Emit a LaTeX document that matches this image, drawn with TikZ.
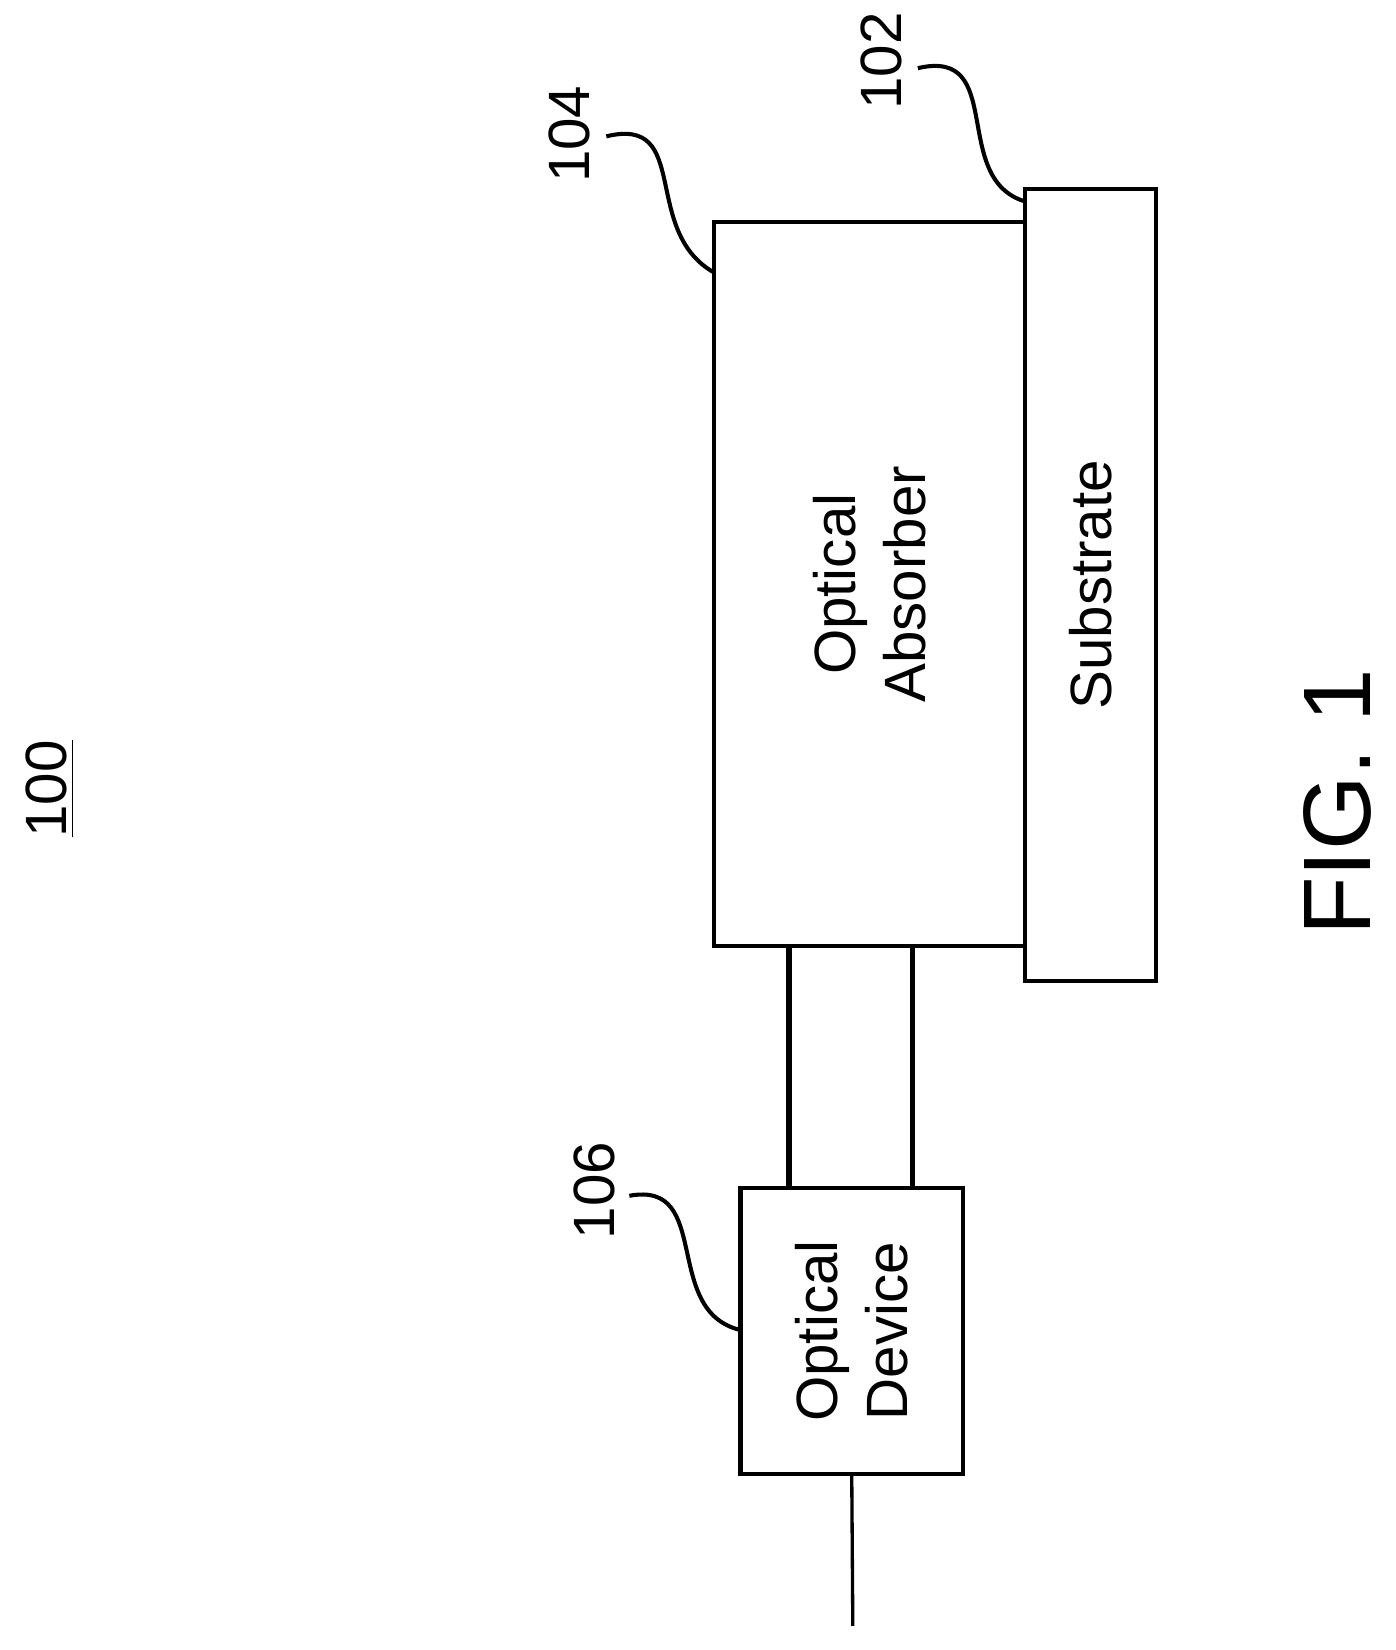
\documentclass[tikz,border=0pt]{standalone}
\usepackage{fontspec}
\setmainfont{Liberation Sans}
\begin{document}
\begin{tikzpicture}[x=0.01cm,y=-0.01cm,
    box/.style={draw, line width=1.1pt, inner sep=0pt},
    lbl/.style={rotate=90, font=\fontsize{15.8}{19}\selectfont, align=center},
    lead/.style={line width=1.1pt}]
        \useasboundingbox (0,0) rectangle (1330,1573);
        % boxes
        \node[box, minimum width=2.96cm, minimum height=6.9cm] (absorber) at (829,557) {};
        \node[box, minimum width=1.25cm, minimum height=7.55cm] (substrate) at (1039.5,557.5) {};
        \node[box, minimum width=2.12cm, minimum height=2.72cm] (device) at (812,1269) {};
        \node[lbl] at (absorber.center) {Optical\\Absorber};
        \node[lbl] at (substrate.center) {Substrate};
        \node[lbl] at (device.center) {Optical\\Device};
        % waveguide and fiber
        \draw[line width=1.5pt] (752,902) -- (752,1133);
        \draw[line width=1.5pt] (870,902) -- (870,1133);
        \coordinate (fiberend) at (813,1550);
        \draw[line width=0.9pt] (device.south) -- (fiberend);
        % reference numerals
        \node[lbl] (n100) at (48,752) {\underline{100}};
        \node[lbl] (n104) at (543,128) {104};
        \node[lbl] (n102) at (840,58) {102};
        \node[lbl] (n106) at (567,1135) {106};
        \node[rotate=90, font=\fontsize{26}{30}\selectfont] (fig) at (1275,765) {FIG. 1};
        \draw[lead] (578,130) .. controls (660,110) and (610,220) .. (681,260);
        \draw[lead] (875,65) .. controls (960,45) and (905,170) .. (977,192);
        \draw[lead] (600,1140) .. controls (680,1125) and (630,1250) .. (706,1268);
    \end{tikzpicture}
\end{document}
